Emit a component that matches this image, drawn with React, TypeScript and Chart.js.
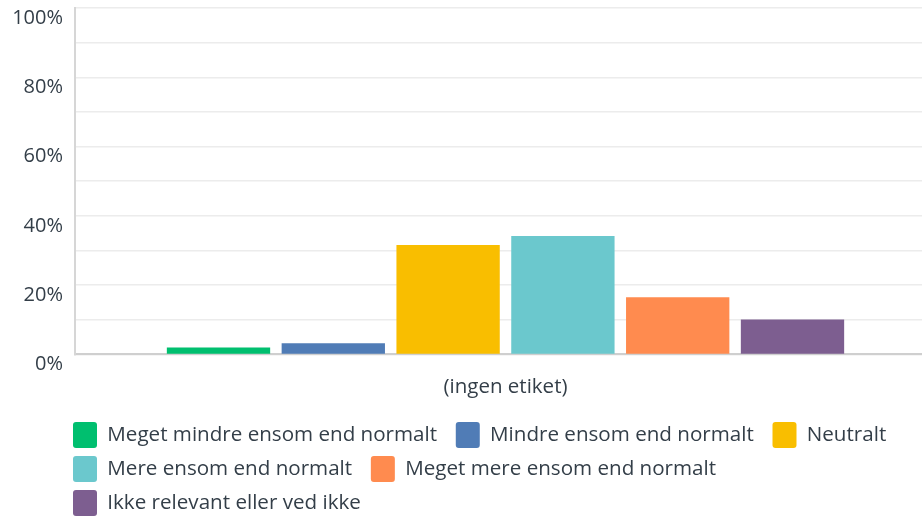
import React, { useEffect, useRef } from "react";
import { Chart, registerables } from "chart.js";

Chart.register(...registerables);

const categories: string[] = [""];
const seriesNames: string[] = [
  "Meget mindre ensom end normalt",
  "Mindre ensom end normalt",
  "Neutralt",
  "Mere ensom end normalt",
  "Meget mere ensom end normalt",
  "Ikke relevant eller ved ikke",
];
const seriesValues: number[] = [2.0, 3.2, 31.6, 34.2, 16.5, 10.1];
const seriesColors: string[] = ["#00bf6f", "#507cb6", "#f9be00", "#6bc8cd", "#ff8b4f", "#7d5e90"];
const yTickLabels: Record<number, string> = { 0: "0%", 20: "20%", 40: "40%", 60: "60%", 80: "80%", 100: "100%" };
const xAxisTitle = "(ingen etiket)";

const FONT = "'Open Sans', 'Noto Sans', sans-serif";
const TEXT = "#333e48";

const legendShift = {
  id: "legendShift",
  afterLayout(chart: any) {
    const l = chart.legend;
    if (l) {
      l.left += 65;
      l.top += 10;
    }
  },
};

export default function App() {
  const ref = useRef<HTMLCanvasElement | null>(null);
  useEffect(() => {
    if (!ref.current) return;
    const chart = new Chart(ref.current, {
      type: "bar",
      data: {
        labels: categories,
        datasets: seriesNames.map((name, i) => ({
          label: name,
          data: [seriesValues[i]],
          backgroundColor: seriesColors[i],
          borderWidth: 0,
        })),
      },
      plugins: [legendShift],
      options: {
        responsive: false,
        animation: false,
        layout: { padding: { top: 8, left: 0, right: 0, bottom: 0 } },
        scales: {
          x: {
            grid: { display: false, drawTicks: false },
            border: { display: true, color: "#cfcfcf", width: 2 },
            ticks: { display: false },
            title: {
              display: true,
              text: xAxisTitle,
              color: TEXT,
              font: { family: FONT, size: 20.5 },
              padding: { top: 20, bottom: 5 },
            },
          },
          y: {
            min: 0,
            max: 100,
            afterFit: (scale: any) => {
              scale.width = 75;
              scale.paddingTop = 0;
              scale.paddingBottom = 0;
            },
            grid: { color: "#ececec", lineWidth: 1.5, drawTicks: false },
            border: { display: true, color: "#d6d6d6", width: 2 },
            ticks: {
              stepSize: 10,
              padding: 12,
              labelOffset: 10,
              color: TEXT,
              font: { family: FONT, size: 20 },
              callback: (v: any) => yTickLabels[Number(v)] ?? "",
            },
          },
        },
        plugins: {
          tooltip: { enabled: false },
          legend: {
            position: "bottom",
            align: "start",
            labels: {
              boxWidth: 24,
              boxHeight: 26,
              padding: 8,
              useBorderRadius: true,
              borderRadius: 3,
              color: TEXT,
              font: { family: FONT, size: 20.6 },
              generateLabels: (c: any) =>
                Chart.defaults.plugins.legend.labels
                  .generateLabels(c)
                  .map((l: any) => ({ ...l, text: l.text + "  ", lineWidth: 0 })),
            },
          },
        },
      },
    });
    return () => chart.destroy();
  }, []);
  return (
    <div style={{ position: "fixed", left: 0, top: 0, width: 922, height: 516, overflow: "hidden", background: "#fff" }}>
      <canvas ref={ref} width={936} height={516} style={{ width: 936, height: 516, display: "block" }} />
    </div>
  );
}
